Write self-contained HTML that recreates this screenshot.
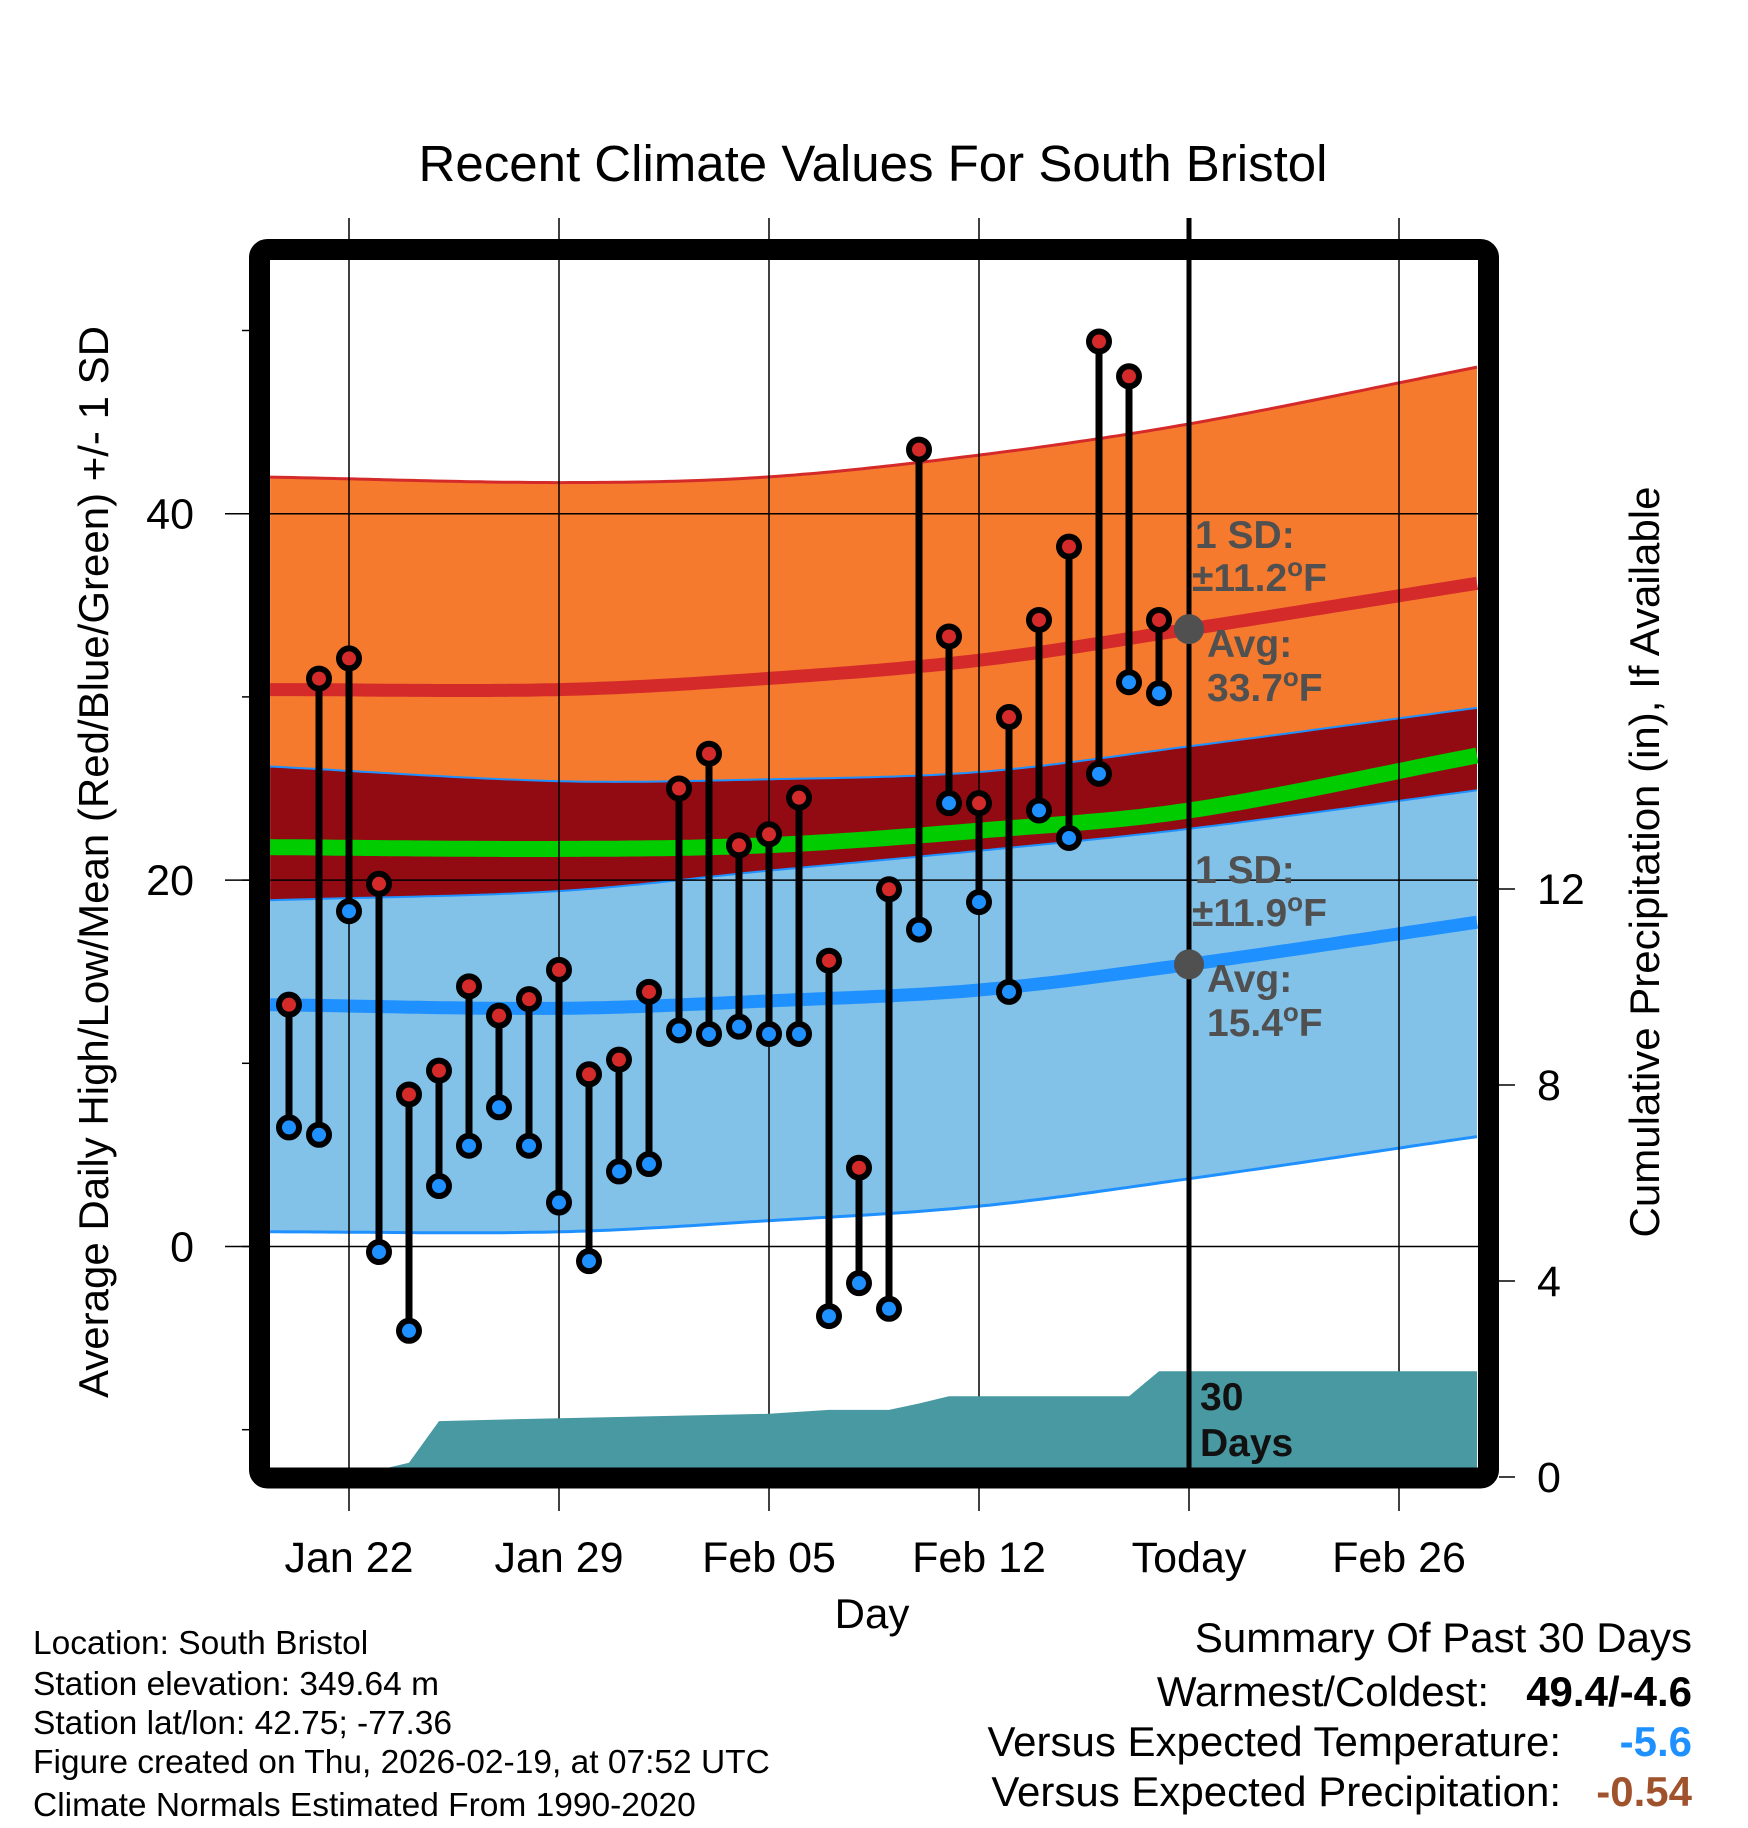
<!DOCTYPE html>
<html><head><meta charset="utf-8"><style>
html,body{margin:0;padding:0;background:#fff}
svg{display:block;font-family:"Liberation Sans",sans-serif}
</style></head><body>
<svg id="chart" width="1748" height="1828" viewBox="0 0 1748 1828" xmlns="http://www.w3.org/2000/svg">
<text x="873" y="181" font-size="51" text-anchor="middle">Recent Climate Values For South Bristol</text>
<g id="bands"></g>
<g id="grid"></g>
<g id="precip"></g>
<g id="series"></g>
<g id="annot" font-weight="bold" fill="#505050" font-size="39">
<text x="1195" y="548">1 SD:</text>
<text x="1192" y="591">±11.2<tspan font-size="26" dy="-15">o</tspan><tspan dy="15">F</tspan></text>
<text x="1207" y="657">Avg:</text>
<text x="1207" y="701">33.7<tspan font-size="26" dy="-15">o</tspan><tspan dy="15">F</tspan></text>
<text x="1195" y="883">1 SD:</text>
<text x="1192" y="926">±11.9<tspan font-size="26" dy="-15">o</tspan><tspan dy="15">F</tspan></text>
<text x="1207" y="992">Avg:</text>
<text x="1207" y="1036">15.4<tspan font-size="26" dy="-15">o</tspan><tspan dy="15">F</tspan></text>
<text x="1200" y="1410" fill="#111">30</text>
<text x="1200" y="1456" fill="#111">Days</text>
</g>
<rect x="259.5" y="249.5" width="1229" height="1228.5" rx="8" fill="none" stroke="#000" stroke-width="21"/>
<g id="axes" font-size="43"></g>
<text x="872" y="1628" font-size="42" text-anchor="middle">Day</text>
<text transform="translate(108,862) rotate(-90)" font-size="42" text-anchor="middle">Average Daily High/Low/Mean (Red/Blue/Green) +/- 1 SD</text>
<text transform="translate(1659,862) rotate(-90)" font-size="42" text-anchor="middle">Cumulative Precipitation (in), If Available</text>
<g font-size="33.5">
<text x="33" y="1654">Location: South Bristol</text>
<text x="33" y="1695">Station elevation: 349.64 m</text>
<text x="33" y="1734">Station lat/lon: 42.75; -77.36</text>
<text x="33" y="1773">Figure created on Thu, 2026-02-19, at 07:52 UTC</text>
<text x="33" y="1816">Climate Normals Estimated From 1990-2020</text>
</g>
<g font-size="42" text-anchor="end">
<text x="1692" y="1652">Summary Of Past 30 Days</text>
<text x="1489" y="1706">Warmest/Coldest:</text>
<text x="1692" y="1706" font-weight="bold">49.4/-4.6</text>
<text x="1561" y="1756">Versus Expected Temperature:</text>
<text x="1692" y="1756" font-weight="bold" fill="#1e90ff">-5.6</text>
<text x="1561" y="1806">Versus Expected Precipitation:</text>
<text x="1692" y="1806" font-weight="bold" fill="#a0522d">-0.54</text>
</g>
</svg>
<script>
// days relative to Jan 22 (0 = Jan 22)
const obsDays = [-2,-1,0,1,2,3,4,5,6,7,8,9,10,11,12,13,14,15,16,17,18,19,20,21,22,23,24,25,26,27];
const highs = [13.2,31.0,32.1,19.8,8.3,9.6,14.2,12.6,13.5,15.1,9.4,10.2,13.9,25.0,26.9,21.9,22.5,24.5,15.6,4.3,19.5,43.5,33.3,24.2,28.9,34.2,38.2,49.4,47.5,34.2];
const lows = [6.5,6.1,18.3,-0.3,-4.6,3.3,5.5,7.6,5.5,2.4,-0.8,4.1,4.5,11.8,11.6,12.0,11.6,11.6,-3.8,-2.0,-3.4,17.3,24.2,18.8,13.9,23.8,22.3,25.8,30.8,30.2];
const normDays = [-2.63,7,13.9,21,28,37.6];
const highUpper = [42.0,41.7,42.0,43.2,44.9,48.0];
const highMean = [30.4,30.4,31.0,32.0,33.7,36.2];
const highLower = [26.2,25.4,25.5,25.9,27.3,29.4];
const meanTemp = [21.8,21.7,21.9,22.7,23.8,26.8];
const lowUpper = [18.9,19.4,20.5,21.6,22.8,24.9];
const lowMean = [13.2,13.0,13.4,14.0,15.4,17.7];
const lowLower = [0.8,0.8,1.4,2.2,3.7,6.0];
const precipDays = [-2.63,0,2,3,7,14,16,18,19,20,26,27,37.6];
const precipVals = [0,0,0.29,1.14,1.2,1.29,1.37,1.37,1.5,1.65,1.65,2.16,2.16];
const xTickDays = [0,7,14,21,28,35];
const xTickLabels = ["Jan 22","Jan 29","Feb 05","Feb 12","Today","Feb 26"];
const yTicks = [0,20,40];
const yMinor = [-10,10,30,50];
const pTicks = [0,4,8,12];
const todayDay = 28;

const NS="http://www.w3.org/2000/svg";
const X = d => 349 + d*30;
const Y = t => 1246.5 - t*18.32;
const P = p => 1477 - p*49;
function mk(tag, attrs, parent){const e=document.createElementNS(NS,tag);for(const k in attrs)e.setAttribute(k,attrs[k]);parent.appendChild(e);return e;}
function lin(xs, ys, d){for(let i=0;i<xs.length-1;i++){if(d<=xs[i+1]){const f=(d-xs[i])/(xs[i+1]-xs[i]);return ys[i]+f*(ys[i+1]-ys[i]);}}return ys[ys.length-1];}
// smooth monotone-ish cubic (Catmull-Rom in index space with non-uniform slopes)
function interp(xs, ys, d){
  const n=xs.length;
  let i=0; while(i<n-2 && d>xs[i+1]) i++;
  const slope=k=>{ if(k===0) return (ys[1]-ys[0])/(xs[1]-xs[0]); if(k===n-1) return (ys[n-1]-ys[n-2])/(xs[n-1]-xs[n-2]); return (ys[k+1]-ys[k-1])/(xs[k+1]-xs[k-1]); };
  const h=xs[i+1]-xs[i], t=(d-xs[i])/h;
  const m0=slope(i)*h, m1=slope(i+1)*h;
  const t2=t*t, t3=t2*t;
  return (2*t3-3*t2+1)*ys[i]+(t3-2*t2+t)*m0+(-2*t3+3*t2)*ys[i+1]+(t3-t2)*m1;
}
function curve(ys){const pts=[];const last=normDays[normDays.length-1];for(let d=normDays[0];d<last;d+=0.25){pts.push([X(d),Y(interp(normDays,ys,d))]);}pts.push([X(last),Y(ys[ys.length-1])]);return pts;}
const bands=document.getElementById('bands');
function band(upper, lower, fill, name){
  const u=curve(upper), l=curve(lower).reverse();
  const p=mk('path',{d:'M'+u.concat(l).map(q=>q[0].toFixed(1)+','+q[1].toFixed(1)).join('L')+'Z',fill:fill},bands);
  
  
}
function line(ys, color, w, name){
  const p=mk('polyline',{points:curve(ys).map(q=>q[0].toFixed(1)+','+q[1].toFixed(1)).join(' '),fill:'none',stroke:color,'stroke-width':w},bands);
  
  
}
band(highUpper, highLower, '#f57a2e', 'high-sd-band');
band(highLower, lowUpper, '#930b12', 'mean-band');
band(lowUpper, lowLower, '#82c1e8', 'low-sd-band');
line(highUpper, '#d42a2a', 3, 'high-upper-line');
line(highLower, '#1e90ff', 2, 'high-lower-line');
line(lowUpper, '#1e90ff', 2, 'low-upper-line');
line(lowLower, '#1e90ff', 3, 'low-lower-line');
line(highMean, '#d42a2a', 13, 'high-mean-line');
line(lowMean, '#1e90ff', 13, 'low-mean-line');
line(meanTemp, '#00cc00', 16, 'mean-temp-line');

const grid=document.getElementById('grid');
xTickDays.forEach(d=>{
  const l=mk('line',{x1:X(d),x2:X(d),y1:218,y2:1511,stroke:'#000','stroke-width':1.5},grid);
  
  
});
yTicks.forEach(t=>{
  const l=mk('line',{x1:242,x2:1478,y1:Y(t),y2:Y(t),stroke:'#000','stroke-width':1.5},grid);
  
  
});

const precip=document.getElementById('precip');
let pd='M'+X(precipDays[0])+','+P(0);
precipDays.forEach((d,i)=>{pd+='L'+X(d).toFixed(1)+','+P(precipVals[i]).toFixed(1);});
pd+='L'+X(precipDays[precipDays.length-1])+','+P(0)+'Z';
const pa=mk('path',{d:pd,fill:'#4899a2'},precip);


const tl=mk('line',{x1:X(todayDay),x2:X(todayDay),y1:218,y2:1468,stroke:'#000','stroke-width':5},precip);



const series=document.getElementById('series');
obsDays.forEach((d,i)=>{
  const x=X(d);
  const s=mk('line',{x1:x,x2:x,y1:Y(highs[i]),y2:Y(lows[i]),stroke:'#000','stroke-width':7},series);
  
  
});
obsDays.forEach((d,i)=>{
  const x=X(d);
  const h=mk('circle',{cx:x,cy:Y(highs[i]),r:10,fill:'#d42a2a',stroke:'#000','stroke-width':6},series);
  
  
  const l=mk('circle',{cx:x,cy:Y(lows[i]),r:10,fill:'#1e90ff',stroke:'#000','stroke-width':6},series);
  
  
});
const g1=mk('circle',{cx:X(todayDay),cy:Y(highMean[4]),r:15,fill:'#505050'},series);


const g2=mk('circle',{cx:X(todayDay),cy:Y(lowMean[4]),r:15,fill:'#505050'},series);



const axes=document.getElementById('axes');
xTickDays.forEach((d,i)=>{
  const t=mk('text',{x:X(d),y:1572,'text-anchor':'middle'},axes);
  t.textContent=xTickLabels[i];
  
  
});
yTicks.forEach(v=>{
  const k=mk('line',{x1:225,x2:249,y1:Y(v),y2:Y(v),stroke:'#000','stroke-width':1.5},axes);
  
  
  const t=mk('text',{x:194,y:Y(v)+15,'text-anchor':'end'},axes);
  t.textContent=v;
  
  
});
yMinor.forEach(v=>{
  const k=mk('line',{x1:242,x2:249,y1:Y(v),y2:Y(v),stroke:'#000','stroke-width':1.5},axes);
  
  
});
pTicks.forEach(v=>{
  const k=mk('line',{x1:1499,x2:1515,y1:P(v),y2:P(v),stroke:'#000','stroke-width':1.5},axes);
  
  
  const t=mk('text',{x:1537,y:P(v)+15,'text-anchor':'start'},axes);
  t.textContent=v;
  
  
});
</script>
</body></html>
